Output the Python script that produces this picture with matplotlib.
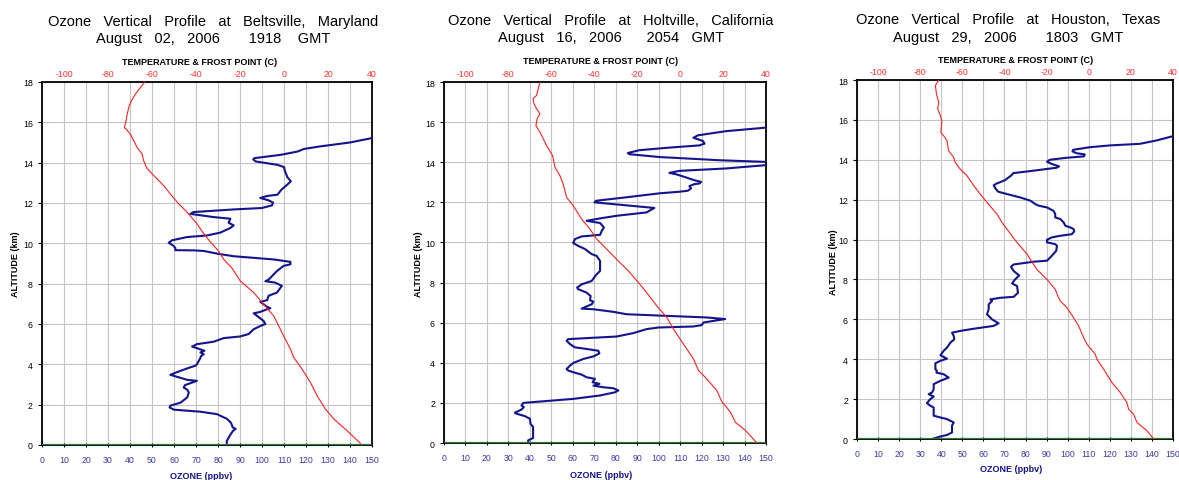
import matplotlib
matplotlib.use("Agg")
import matplotlib.pyplot as plt
import numpy as np

plt.rcParams['font.family'] = ['Liberation Sans', 'DejaVu Sans']
plt.rcParams['axes.unicode_minus'] = False

# ---- Beltsville, Maryland ----
bv_o3_alt = [0, 0.2, 0.46, 0.7, 0.8, 0.87, 1.1, 1.3, 1.53, 1.65, 1.75, 1.86, 1.95, 2.1, 2.36, 2.6, 2.74,
             2.85, 2.97, 3.18, 3.23, 3.48, 3.68, 3.85, 3.93, 4.0, 4.26, 4.42, 4.5, 4.59, 4.67, 4.79, 4.88,
             5.0, 5.12, 5.3, 5.38, 5.5, 5.74, 5.9, 6.0, 6.15, 6.53, 6.6, 6.73, 6.78, 6.85, 7.1, 7.18, 7.4,
             7.56, 7.89, 8.05, 8.12, 8.2, 8.46, 8.63, 8.88, 8.96, 9.08, 9.2, 9.36, 9.49, 9.62, 9.65, 9.66,
             9.77, 9.87, 10.03, 10.15, 10.31, 10.39, 10.53, 10.76, 10.89, 11.02, 11.22, 11.3, 11.46, 11.55,
             11.68, 11.75, 11.88, 12.02, 12.13, 12.25, 12.35, 12.41, 12.63, 12.71, 12.77, 13.07, 13.28,
             13.61, 13.78, 13.89, 14.06, 14.16, 14.22, 14.39, 14.55, 14.68, 14.81, 15.0, 15.22, 15.5]
bv_o3 = [84, 84, 85.3, 86.8, 88, 86.7, 85.9, 84, 79.5, 72, 60, 58, 58.3, 63, 66, 66.7, 66,
         64.4, 65, 70.4, 66, 58.3, 63, 67.4, 69.7, 70.4, 71.7, 72.4, 73.5, 72, 73.8, 70.7, 68.2,
         70.4, 78, 82.6, 90, 93.9, 96.2, 99.2, 101.5, 100.7, 96.2, 99.2, 102.3, 103.8, 102.3, 99.2, 102.3, 103,
         106.8, 109, 106, 101.5, 103, 105.3, 106.8, 109.8, 112.9, 112.9, 105.3, 87, 79.5, 73.5, 69, 60.6,
         60.6, 59.8, 57.6, 59.1, 65.9, 75, 81, 85.6, 87.1, 84.8, 85.6, 78, 67.4, 68.9,
         87.1, 99.9, 104.5, 105, 103, 99.2, 102.5, 107, 108.6, 109.3, 110, 113.1, 111.5,
         110.3, 110, 107, 97.1, 96, 96.4, 108.6, 116.1, 119.1, 126.7, 140, 150, 175]
bv_t_alt = [0.08, 0.71, 1.29, 1.78, 2.44, 3.1, 3.76, 4.34, 4.75, 5.41, 6.4, 6.98, 7.56, 8.13, 8.75,
            9.2, 9.65, 10.07, 10.48, 10.97, 11.55, 11.96, 12.45, 12.86, 13.36, 13.72, 14.1, 14.43,
            14.76, 15.09, 15.42, 15.66, 15.74, 15.96, 16.32, 16.73, 17.06, 17.39, 17.72, 18]
bv_temp = [34.7, 28.6, 22.6, 18.8, 15, 12, 8.2, 4.4, 2.9, -0.2, -4.7, -9.3, -13.8, -19.9, -23.5,
           -27.4, -30, -33.5, -36.5, -39.6, -44.1, -47.9, -51.7, -54.7, -59.2, -62.3, -63.8, -64.5,
           -66.8, -68.3, -69.9, -71.7, -72.6, -72, -71.4, -70.6, -69.4, -67.6, -65.3, -63.3]

# ---- Holtville, California ----
hv_o3_alt = [0, 0.13, 0.25, 0.8, 0.96, 1.21, 1.34, 1.46, 1.51, 1.67, 1.79, 1.87, 2.0, 2.04, 2.2, 2.37,
             2.53, 2.62, 2.73, 2.78, 2.86, 2.95, 3.03, 3.2, 3.28, 3.41, 3.53, 3.61, 3.69, 3.86, 3.99,
             4.19, 4.32, 4.47, 4.6, 4.69, 4.77, 4.93, 5.1, 5.18, 5.23, 5.31, 5.48, 5.68, 5.76, 5.81,
             5.88, 6.01, 6.18, 6.26, 6.34, 6.42, 6.54, 6.67, 6.7, 6.92, 7.05, 7.12, 7.33, 7.5, 7.67,
             7.75, 7.91, 8.08, 8.2, 8.41, 8.58, 8.82, 9.08, 9.33, 9.42, 9.67, 9.83, 9.97, 10.17, 10.3,
             10.38, 10.58, 10.75, 10.97, 11.08, 11.2, 11.33, 11.5, 11.72, 12.0, 12.08, 12.25, 12.45,
             12.53, 12.58, 12.69, 12.81, 12.91, 12.94, 13.02, 13.1, 13.27, 13.4, 13.47, 13.57, 13.69,
             13.85, 13.93, 14.02, 14.1, 14.26, 14.4, 14.46, 14.6, 14.73, 14.84, 14.93, 15.06, 15.22,
             15.34, 15.55, 15.72, 15.95]
hv_o3 = [39.2, 39.2, 41.5, 41.5, 40.3, 40, 37.7, 33.8, 33, 36.1, 37.2, 36.1, 36.9, 41.5, 60.2, 72.7,
         79.7, 81.2, 78.9, 74.2, 69.6, 72.4, 69.2, 70.3, 66.4, 64.1, 60.2, 57.9, 57.1, 58.7, 60.2,
         64.9, 69.6, 72.4, 71.9, 66.4, 61, 58.7, 57.1, 57.9, 66.4, 80.4, 88.2, 94.4, 99.9, 116.2,
         120.1, 120.9, 131, 122.5, 103.8, 85.1, 78.9, 69.6, 64.1, 68.8, 69.6, 68, 68.3, 66.4, 62.5,
         62, 64.1, 68.8, 69.6, 71.1, 72.7, 72.7, 72.7, 71.1, 68.8, 65.7, 62.5, 60.2, 61, 64.1,
         72.7, 73.5, 74.5, 72.7, 66.4, 72.7, 80.4, 94.4, 98, 70.1, 70.9, 84.8, 100.4,
         109.7, 113.6, 115.1, 114.3, 116.7, 119, 119.8, 116.7, 112, 108.1, 105, 109.7, 131.4,
         149.3, 170, 149.3, 128.3, 100.4, 86.4, 85.6, 91, 105, 119, 121.4, 120.6, 116.2,
         118.2, 131.4, 149.3, 175]
hv_t_alt = [0, 0.63, 1.04, 1.54, 1.87, 2.04, 2.62, 3.28, 3.61, 4.19, 4.69, 5.18, 5.68, 6.26, 6.84,
            7.5, 8.0, 8.58, 9.16, 9.5, 10.17, 10.67, 11.17, 11.83, 12.25, 12.92, 13.33, 13.75, 14.33,
            14.83, 15.5, 15.83, 16.17, 16.42, 16.67, 16.92, 17.17, 17.33, 18]
hv_temp = [35.8, 30.4, 25.7, 23.4, 21, 19.5, 17.1, 11.7, 8.6, 6.2, 3.1, 0, -3.1, -6.2, -10.9,
           -15.6, -19.4, -24.1, -29.6, -32.7, -38.9, -42, -45.9, -49.8, -52.9, -54.5, -56, -58.3, -59.4,
           -62.2, -65.3, -67.2, -66.6, -65.3, -66.9, -68.1, -68.5, -66.9, -65.3]

# ---- Houston, Texas ----
hu_o3_alt = [0, 0.13, 0.2, 0.33, 0.67, 0.83, 1.0, 1.08, 1.17, 1.58, 1.67, 1.8, 2.0, 2.13, 2.25, 2.33,
             2.5, 2.75, 2.92, 3.08, 3.25, 3.33, 3.42, 3.5, 3.8, 3.92, 4.03, 4.2, 4.42, 4.58, 4.83, 5.0,
             5.17, 5.33, 5.42, 5.53, 5.67, 5.8, 6.0, 6.17, 6.25, 6.5, 6.75, 6.92, 7.0, 7.08, 7.13,
             7.33, 7.67, 7.8, 8.0, 8.2, 8.42, 8.63, 8.75, 8.89, 8.94, 9.19, 9.44, 9.69, 9.77, 9.86,
             9.99, 10.11, 10.19, 10.27, 10.41, 10.53, 10.61, 10.69, 10.86, 11.03, 11.11, 11.28, 11.44,
             11.61, 11.7, 11.78, 11.95, 12.11, 12.28, 12.4, 12.55, 12.72, 12.8, 12.97, 13.22, 13.33,
             13.43, 13.6, 13.67, 13.8, 13.9, 14.0, 14.1, 14.17, 14.27, 14.33, 14.42, 14.5, 14.63,
             14.72, 14.8, 14.97, 15.18, 15.4]
hu_o3 = [35.6, 39.6, 42.7, 45.1, 45.1, 45.9, 42.7, 39.6, 36.4, 36.4, 34.8, 33.2, 34.8, 36.4, 34, 35.6,
         36.4, 36.4, 39.6, 43.5, 41.1, 37.7, 37.9, 37.2, 37.2, 39.6, 42.7, 39.6, 41.1, 42.7, 44.3, 46.2,
         45.9, 45.1, 49, 55.4, 64.8, 67.2, 64.1, 62.5, 61.7, 62.5, 62.5, 64.1, 63.3, 68, 74.4,
         76.4, 76, 73.6, 75, 77, 74.4, 73.1, 74.3, 83.8, 90.2, 92.5, 94.6, 94.9, 94.1, 90.2,
         90.2, 92.5, 96.5, 102, 103.1, 102.8, 101.2, 98.9, 98.1, 96.5, 94.1, 94.1, 93.3,
         90.2, 86.2, 84.6, 82.3, 77.5, 71.2, 67, 65.8, 64.9, 66.1, 70.1, 73.3, 74.1,
         82, 94.7, 95.9, 92.3, 90.2, 91.5, 99.4, 107.7, 108.1, 104.2, 102.3, 102.6, 110.5,
         120, 134.3, 142.2, 149.8, 170]
hu_t_alt = [0, 0.42, 0.83, 1.25, 1.5, 1.83, 2.33, 2.83, 3.5, 4.0, 4.25, 4.75, 5.08, 5.67, 6.08, 6.58,
            6.92, 7.08, 7.5, 8.0, 8.5, 9.0, 9.27, 9.86, 10.52, 10.86, 11.28, 11.86, 12.28, 12.7, 13.2,
            13.53, 13.87, 14.12, 14.45, 14.96, 15.21, 15.37, 15.96, 16.21, 16.55, 16.88, 17.3, 17.72, 18]
hu_temp = [30.8, 27.6, 22.9, 21.3, 18.9, 18.1, 15, 11, 7.1, 3.9, 3.1, -0.8, -2.4, -4.8, -7.2, -10.3,
           -13.5, -14.3, -15.9, -19.8, -24.6, -27.7, -29.3, -34.1, -38.8, -41.2, -43.6, -48.3, -51.5, -54.6, -57.8,
           -61, -63.4, -64.1, -66.5, -67.3, -68.9, -70.2, -69.7, -70.4, -71.7, -71.2, -72.3, -72.8, -71.2]

titles = [("Ozone   Vertical   Profile   at   Beltsville,   Maryland", "August   02,   2006       1918    GMT"),
          ("Ozone   Vertical   Profile   at   Holtville,   California", "August   16,   2006      2054   GMT"),
          ("Ozone   Vertical   Profile   at   Houston,   Texas", "August   29,   2006       1803   GMT")]

BLUE = "#14148c"
TICKBLUE = "#3a3aa8"


def draw_panel(rect, o3_alt, o3, t_alt, temp, title, title_xy, temp_lbl_xy, oz_lbl_xy, alt_lbl_xy):
    ax = fig.add_axes(rect)
    ax.set_xlim(0, 150)
    ax.set_ylim(0, 18)
    ax.set_xticks(np.arange(0, 151, 10))
    ax.set_yticks(np.arange(0, 19, 2))
    ax.grid(True, color="#c4c4c4", lw=0.8)
    ax.set_axisbelow(True)
    ax.tick_params(axis="x", labelsize=6.3, labelcolor=TICKBLUE, length=3, direction="inout", pad=6)
    ax.tick_params(axis="y", labelsize=6.3, length=3, direction="out")
    for s in ax.spines.values():
        s.set_linewidth(1.3)
    ax.plot(o3, o3_alt, color=BLUE, lw=1.5, zorder=4)
    ax.axhline(0, color="#2e7d32", lw=1.6, zorder=5)

    ax2 = ax.twiny()
    ax2.set_xlim(-110, 40)
    ax2.set_xticks(np.arange(-100, 41, 20))
    ax2.tick_params(axis="x", labelsize=6.3, labelcolor="#ff3030", length=0, pad=3)
    ax2.plot(temp, t_alt, color="#ff2020", lw=0.8, zorder=3)
    for s in ax2.spines.values():
        s.set_visible(False)

    fig.text(title_xy[0], title_xy[1], title[0], ha="center", va="center", fontsize=10.5)
    fig.text(title_xy[0], title_xy[1] - 0.036, title[1], ha="center", va="center", fontsize=10.5)
    fig.text(temp_lbl_xy[0], temp_lbl_xy[1], "TEMPERATURE & FROST POINT (C)", ha="center", va="center",
             fontsize=6.5, fontweight="bold")
    fig.text(oz_lbl_xy[0], oz_lbl_xy[1], "OZONE (ppbv)", ha="center", va="center",
             fontsize=6.5, fontweight="bold", color=BLUE)
    fig.text(alt_lbl_xy[0], alt_lbl_xy[1], "ALTITUDE (km)", ha="center", va="center",
             fontsize=6.5, fontweight="bold", rotation=90)


fig = plt.figure(figsize=(11.79, 4.81), dpi=100)

draw_panel([0.0356, 0.0728, 0.280, 0.7547], bv_o3_alt, bv_o3, bv_t_alt, bv_temp, titles[0],
           (0.181, 0.954), (0.169, 0.871), (0.171, 0.009), (0.013, 0.45))
draw_panel([0.3766, 0.0769, 0.2731, 0.7505], hv_o3_alt, hv_o3, hv_t_alt, hv_temp, titles[1],
           (0.518, 0.956), (0.509, 0.873), (0.510, 0.011), (0.355, 0.45))
draw_panel([0.7269, 0.0852, 0.268, 0.7464], hu_o3_alt, hu_o3, hu_t_alt, hu_temp, titles[2],
           (0.855, 0.958), (0.861, 0.875), (0.858, 0.023), (0.707, 0.455))

fig.savefig("out.png", dpi=100)
